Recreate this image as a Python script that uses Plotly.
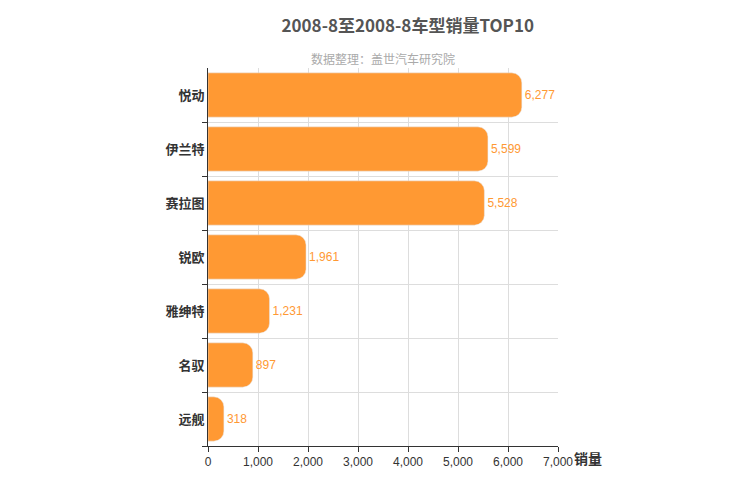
import plotly.graph_objects as go

models = ["悦动", "伊兰特", "赛拉图", "锐欧", "雅绅特", "名驭", "远舰"]
sales = [6277, 5599, 5528, 1961, 1231, 897, 318]
x_ticks = [0, 1000, 2000, 3000, 4000, 5000, 6000, 7000]

fig = go.Figure(go.Bar(
    y=models, x=sales, orientation="h",
    marker=dict(color="#ff9933", cornerradius=10),
    width=0.82,
    text=[f"{v:,}" for v in sales], textposition="outside",
    textfont=dict(color="#ff9933", size=12, family="Liberation Sans"),
    cliponaxis=False,
))
fig.update_layout(
    width=750, height=500,
    margin=dict(l=200, r=200, t=60, b=62),
    plot_bgcolor="white", paper_bgcolor="white",
    font=dict(family="Noto Sans CJK SC, Liberation Sans", color="#333"),
    title=dict(text="<b>2008-8至2008-8车型销量TOP10</b>", x=0.533, xanchor="center", y=0.975,
               font=dict(size=17, color="#555")),
    showlegend=False,
    annotations=[
        dict(text="数据整理：盖世汽车研究院", x=0.5, xref="paper", y=1.053, yref="paper",
             showarrow=False, font=dict(size=12, color="#aaa")),
        dict(text="<b>销量</b>", xref="paper", yref="paper", x=1.04, y=0, xanchor="left",
             yanchor="top", showarrow=False, font=dict(size=14, color="#333")),
    ],
)
fig.update_xaxes(range=[0, 7000], tickvals=x_ticks, tickformat=",", showgrid=True,
                 gridcolor="#ddd", showline=True, linecolor="#333", ticks="outside",
                 tickcolor="#333", ticklen=5, tickfont=dict(size=12, color="#333", family="Liberation Sans"),
                 zeroline=False)
fig.update_yaxes(categoryorder="array", categoryarray=models[::-1], tickson="boundaries",
                 showgrid=True, gridcolor="#ddd", showline=True, linecolor="#333",
                 ticks="outside", tickcolor="#333", ticklen=5,
                 tickfont=dict(size=13, color="#333"),
                 ticktext=[f"<b>{m}</b>" for m in models], tickvals=models)
fig.write_html("out.html")
